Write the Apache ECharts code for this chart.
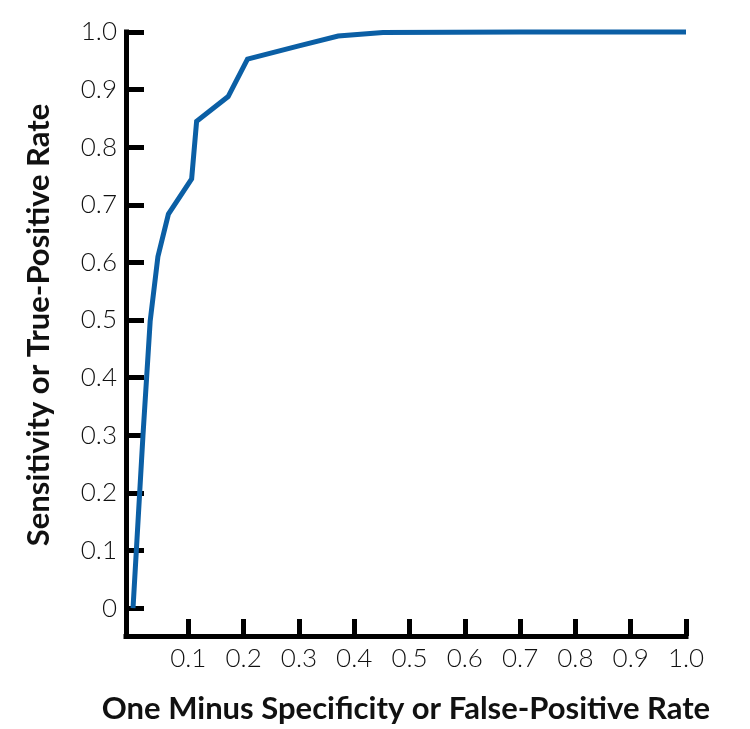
<!DOCTYPE html>
<html>
<head>
<meta charset="utf-8">
<script src="https://cdn.jsdelivr.net/npm/echarts@6/dist/echarts.min.js"></script>
<style>html,body{margin:0;padding:0;background:#fff}#c{width:750px;height:729px}</style>
</head>
<body>
<div id="c"></div>
<script>
// ROC curve points: [false-positive rate, true-positive rate]
const fpr = [0, 0.018, 0.031, 0.045, 0.064, 0.106, 0.115, 0.172, 0.207, 0.30, 0.371, 0.452, 0.70, 1.0];
const tpr = [0, 0.30, 0.498, 0.610, 0.684, 0.745, 0.845, 0.888, 0.953, 0.976, 0.993, 0.999, 1.0, 1.0];
const xTicks = [0.1, 0.2, 0.3, 0.4, 0.5, 0.6, 0.7, 0.8, 0.9, 1.0];
const yTicks = [0, 0.1, 0.2, 0.3, 0.4, 0.5, 0.6, 0.7, 0.8, 0.9, 1.0];
const xTitle = 'One Minus Specificity or False-Positive Rate';
const yTitle = 'Sensitivity or True-Positive Rate';

const chart = echarts.init(document.getElementById('c'), null, {renderer: 'canvas'});
const labelFont = {color: '#111', fontFamily: 'Lato', fontWeight: 300, fontSize: 26};
chart.setOption({
  animation: false,
  grid: {left: 126, right: 64, top: 32, bottom: 89},
  xAxis: {
    type: 'value', min: -0.0127, max: 1.0,
    splitLine: {show: false},
    axisLine: {show: true, onZero: false, lineStyle: {color: '#000', width: 5, cap: 'square'}},
    axisTick: {show: true, inside: true, length: 17, lineStyle: {color: '#000', width: 5}, customValues: xTicks},
    axisLabel: Object.assign({margin: 10, customValues: xTicks, formatter: v => v.toFixed(1)}, labelFont),
    name: xTitle, nameLocation: 'middle', nameGap: 57,
    nameTextStyle: {fontFamily: 'Lato', fontWeight: 'bold', fontSize: 31, color: '#111'}
  },
  yAxis: {
    type: 'value', min: -0.0483, max: 1.0,
    splitLine: {show: false},
    axisLine: {show: true, onZero: false, lineStyle: {color: '#000', width: 5, cap: 'square'}},
    axisTick: {show: true, inside: true, length: 18, lineStyle: {color: '#000', width: 5}, customValues: yTicks},
    axisLabel: Object.assign({margin: 9, customValues: yTicks, formatter: v => v === 0 ? '0' : v.toFixed(1)}, labelFont),
    name: yTitle, nameLocation: 'middle', nameGap: 72,
    nameTextStyle: {fontFamily: 'Lato', fontWeight: 'bold', fontSize: 31, color: '#111', padding: [0, 0, 0, 18]}
  },
  series: [{
    type: 'line',
    data: fpr.map((x, i) => [x, tpr[i]]),
    showSymbol: false,
    lineStyle: {color: '#0b5fa5', width: 5, join: 'miter'},
    clip: false
  }]
});
</script>
</body>
</html>
